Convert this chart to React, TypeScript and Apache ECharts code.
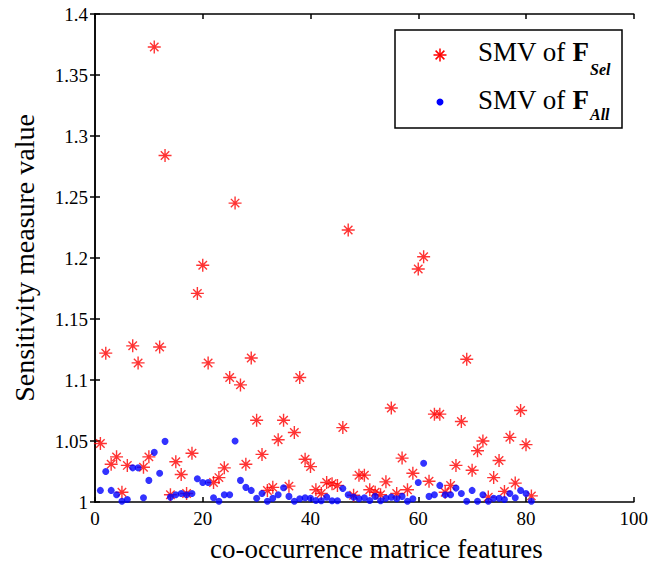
import React, { useEffect, useRef } from "react";
import * as echarts from "echarts";

const featureIdx: number[] = Array.from({ length: 81 }, (_, i) => i + 1);

const selValues: number[] = [
  1.048, 1.122, 1.031, 1.037, 1.008, 1.03, 1.128, 1.114, 1.0285, 1.037,
  1.373, 1.127, 1.284, 1.006, 1.033, 1.0226, 1.007, 1.04, 1.171, 1.194,
  1.114, 1.016, 1.02, 1.028, 1.102, 1.245, 1.096, 1.031, 1.118, 1.067,
  1.039, 1.0095, 1.012, 1.051, 1.067, 1.013, 1.057, 1.102, 1.035, 1.029,
  1.01, 1.007, 1.016, 1.015, 1.0136, 1.061, 1.223, 1.0055, 1.022, 1.022,
  1.01, 1.008, 1.006, 1.0165, 1.077, 1.007, 1.036, 1.01, 1.0236, 1.191,
  1.201, 1.017, 1.072, 1.072, 1.008, 1.0136, 1.03, 1.066, 1.117, 1.026,
  1.042, 1.05, 1.004, 1.02, 1.034, 1.0087, 1.053, 1.0155, 1.075, 1.047,
  1.005,
];

const allValues: number[] = [
  1.0095, 1.025, 1.0095, 1.006, 1.0006, 1.002, 1.028, 1.028, 1.0035, 1.0177,
  1.0407, 1.0236, 1.0497, 1.004, 1.006, 1.007, 1.006, 1.007, 1.019, 1.016,
  1.016, 1.0035, 1.0006, 1.006, 1.006, 1.05, 1.0177, 1.012, 1.0095, 1.003,
  1.007, 1.0006, 1.003, 1.006, 1.0117, 1.0046, 1.0006, 1.0027, 1.0035, 1.003,
  1.0013, 1.001, 1.004, 1.001, 1.001, 1.011, 1.006, 1.004, 1.0027, 1.0035,
  1.0013, 1.0046, 1.001, 1.003, 1.004, 1.0027, 1.0046, 1.0006, 1.0027, 1.016,
  1.0318, 1.0046, 1.006, 1.0136, 1.006, 1.006, 1.0114, 1.007, 1.0006, 1.0095,
  1.0006, 1.006, 1.0006, 1.003, 1.003, 1.002, 1.007, 1.0035, 1.0095, 1.007,
  1.0006,
];

const xRange = { min: 0, max: 100, interval: 20 };
const yRange = { min: 1, max: 1.4, interval: 0.05 };

const FONT = "Liberation Serif, Times New Roman, serif";
const STAR = "path://M0,-10L0,10M-10,0L10,0M-6.5,-6.5L6.5,6.5M-6.5,6.5L6.5,-6.5";

export default function App() {
  const ref = useRef<HTMLDivElement>(null);

  useEffect(() => {
    document.body.style.margin = "0";
    if (!ref.current) return;
    const chart = echarts.init(ref.current, undefined, { renderer: "svg" });

    const axisLine = { show: true, lineStyle: { color: "#000", width: 1.5 } };
    const tick = { show: true, inside: true, length: 5, lineStyle: { color: "#000", width: 1.5 } };
    const label = { color: "#000", fontSize: 19, fontFamily: FONT };

    const starLine = (x1: number, y1: number, x2: number, y2: number) => ({
      type: "line",
      z: 12,
      shape: { x1, y1, x2, y2 },
      style: { stroke: "#ff0000", lineWidth: 1.5 },
    });

    const richBase = {
      n: { fontSize: 27, fontFamily: FONT, fill: "#000" },
      b: { fontSize: 27, fontFamily: FONT, fontWeight: "bold", fill: "#000" },
    };

    chart.setOption({
      animation: false,
      backgroundColor: "#fff",
      grid: { left: 95, right: 16, top: 14, bottom: 62 },
      xAxis: [
        {
          type: "value",
          position: "bottom",
          ...xRange,
          axisLine,
          axisTick: tick,
          splitLine: { show: false },
          axisLabel: { ...label, margin: 7 },
          name: "co-occurrence matrice features",
          nameLocation: "middle",
          nameGap: 33,
          nameTextStyle: { color: "#000", fontSize: 27, fontFamily: FONT, padding: [0, 0, 0, 24] },
        },
        {
          type: "value",
          position: "top",
          ...xRange,
          axisLine,
          axisTick: tick,
          splitLine: { show: false },
          axisLabel: { show: false },
        },
      ],
      yAxis: [
        {
          type: "value",
          position: "left",
          ...yRange,
          axisLine,
          axisTick: tick,
          splitLine: { show: false },
          axisLabel: {
            ...label,
            margin: 7,
            formatter: (v: number) => String(+v.toFixed(2)),
          },
          name: "Sensitivity measure value",
          nameLocation: "middle",
          nameGap: 57,
          nameTextStyle: { color: "#000", fontSize: 28, fontFamily: FONT },
        },
        {
          type: "value",
          position: "right",
          ...yRange,
          axisLine,
          axisTick: tick,
          splitLine: { show: false },
          axisLabel: { show: false },
        },
      ],
      series: [
        {
          name: "SMV of F_Sel",
          type: "scatter",
          symbol: STAR,
          symbolSize: 13,
          itemStyle: { color: "#ff0000", borderColor: "#ff0000", borderWidth: 1.4 },
          data: featureIdx.map((x, i) => [x, selValues[i]]),
          z: 2,
        },
        {
          name: "SMV of F_All",
          type: "scatter",
          symbol: "circle",
          symbolSize: 7,
          itemStyle: { color: "#0000ff" },
          data: featureIdx.map((x, i) => [x, allValues[i]]),
          z: 3,
        },
      ],
      graphic: [
        {
          type: "rect",
          shape: { x: 395, y: 30, width: 227, height: 98 },
          style: { fill: "#fff", stroke: "#000", lineWidth: 1.5 },
          z: 10,
        },
        {
          type: "group",
          x: 440,
          y: 55,
          z: 12,
          children: [
            starLine(0, -6.5, 0, 6.5),
            starLine(-6.5, 0, 6.5, 0),
            starLine(-4.4, -4.4, 4.4, 4.4),
            starLine(-4.4, 4.4, 4.4, -4.4),
          ],
        },
        {
          type: "circle",
          z: 12,
          shape: { cx: 440, cy: 102, r: 3.5 },
          style: { fill: "#0000ff" },
        },
        {
          type: "text",
          x: 478,
          y: 52,
          z: 12,
          style: {
            text: "{n|SMV of }{b|F}{s|Sel}",
            verticalAlign: "middle",
            rich: {
              ...richBase,
              s: { fontSize: 16, fontFamily: FONT, fontWeight: "bold", fontStyle: "italic", fill: "#000", padding: [34, 0, 0, 1] },
            },
          },
        },
        {
          type: "text",
          x: 478,
          y: 100,
          z: 12,
          style: {
            text: "{n|SMV of }{b|F}{s|All}",
            verticalAlign: "middle",
            rich: {
              ...richBase,
              s: { fontSize: 16, fontFamily: FONT, fontWeight: "bold", fontStyle: "italic", fill: "#000", padding: [29, 0, 0, 1] },
            },
          },
        },
      ],
    });

    return () => chart.dispose();
  }, []);

  return <div ref={ref} style={{ width: 651, height: 567 }} />;
}
